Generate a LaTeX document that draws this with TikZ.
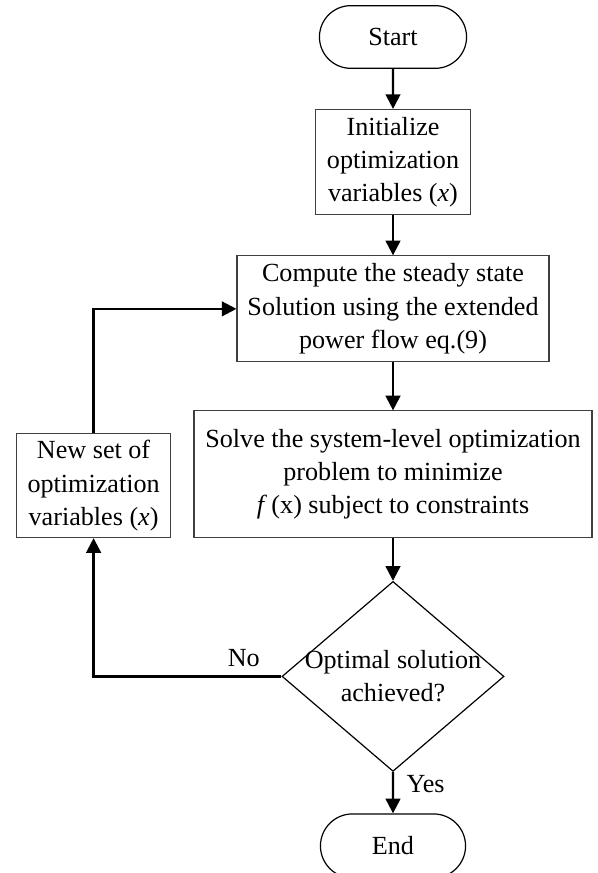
\documentclass[tikz,border=0pt]{standalone}
\usepackage{fontspec}
\setmainfont{Liberation Serif}
\usepackage{tikz}
\usetikzlibrary{arrows.meta,positioning,shapes.geometric,shapes.misc}

\tikzset{
  terminal/.style={rounded rectangle, draw, line width=0.9pt, minimum width=117pt, minimum height=47pt},
  process/.style={rectangle, draw=black!75, line width=0.8pt, align=center, inner sep=3pt},
  decision/.style={diamond, draw, line width=0.9pt, minimum width=166.5pt, minimum height=142.5pt, inner sep=0pt}
}

\begin{document}
\begin{tikzpicture}[->,>={Triangle[length=11pt,width=11pt]},line width=1.7pt,node distance=30pt,
                    font=\fontsize{19.6}{25}\selectfont]
\useasboundingbox (0,0) rectangle (447.75pt,-654.75pt);

\node[terminal] (start) at (294.75pt,-27.75pt) {Start};
\node[process, minimum width=116pt, minimum height=79pt] (init) [below=30pt of start]
     {Initialize\\optimization\\variables (\textit{x})};
\node[process, minimum width=234pt, minimum height=79.5pt] (compute) [below=30pt of init]
     {Compute the steady state\\Solution using the extended\\power flow eq.(9)};
\node[process, minimum width=298.5pt, minimum height=95pt] (solve) [below=36pt of compute]
     {Solve the system-level optimization\\problem to minimize\\\textit{f}\,(x) subject to constraints};
\node[decision, label={[align=center]center:Optimal solution\\achieved?}] (check) [below=32pt of solve] {};
\node[terminal, minimum width=115.5pt, minimum height=48pt] (end) [below=31pt of check] {End};

\node[process, minimum width=116pt, minimum height=78pt] (newset)
     [left=16.5pt of solve.south west, anchor=south east]
     {New set of\\optimization\\variables (\textit{x})};

\path (start)   edge[->] (init)
      (init)    edge[->] (compute)
      (compute) edge[->] (solve)
      (solve)   edge[->] (check)
      (check)   edge[->] node[right=6pt, pos=0.3] {Yes} (end);

\draw[->] (check.west) -| node[above=3pt, pos=0.1] {No} (newset.south);
\draw[->] (newset.north) |- (compute.west);

\end{tikzpicture}
\end{document}
